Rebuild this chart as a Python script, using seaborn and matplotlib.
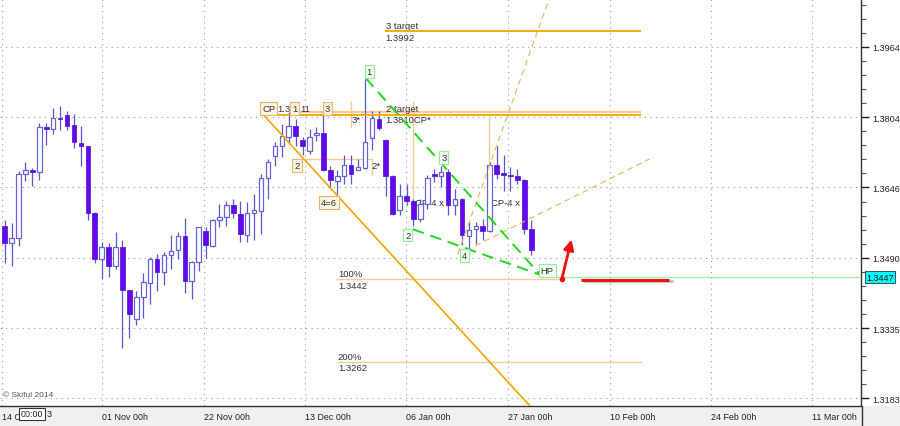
import numpy as np
import pandas as pd
import matplotlib
matplotlib.use('Agg')
import matplotlib.pyplot as plt
import seaborn as sns
from matplotlib.patches import Rectangle
from matplotlib.lines import Line2D
from matplotlib.ticker import FixedLocator, NullFormatter

# ============================================================
# Daily candles (bar index 0..76)
# ============================================================
opens = [1.3561, 1.3523, 1.3533, 1.3676, 1.3685, 1.3681, 1.3782, 1.3777, 1.3803, 1.3809,
         1.3787, 1.3746, 1.3738, 1.3590, 1.3486, 1.3513, 1.3472, 1.3513, 1.3418, 1.3355,
         1.3404, 1.3433, 1.3487, 1.3458, 1.3495, 1.3506, 1.3538, 1.3438, 1.3481, 1.3549,
         1.3516, 1.3573, 1.3580, 1.3606, 1.3587, 1.3541, 1.3589, 1.3593, 1.3668, 1.3716,
         1.3739, 1.3759, 1.3785, 1.3753, 1.3728, 1.3763, 1.3769, 1.3684, 1.3660, 1.3672,
         1.3697, 1.3686, 1.3690, 1.3758, 1.3801, 1.3753, 1.3672, 1.3595, 1.3628, 1.3616,
         1.3575, 1.3608, 1.3677, 1.3672, 1.3681, 1.3606, 1.3621, 1.3537, 1.3553, 1.3561,
         1.3549, 1.3697, 1.3678, 1.3673, 1.3671, 1.3663, 1.3554]
highs = [1.3573, 1.3567, 1.3683, 1.3703, 1.3690, 1.3791, 1.3791, 1.3824, 1.3830, 1.3817,
         1.3811, 1.3784, 1.3739, 1.3591, 1.3524, 1.3523, 1.3547, 1.3530, 1.3419, 1.3417,
         1.3456, 1.3491, 1.3498, 1.3502, 1.3541, 1.3547, 1.3579, 1.3482, 1.3559, 1.3558,
         1.3576, 1.3608, 1.3616, 1.3621, 1.3616, 1.3614, 1.3632, 1.3677, 1.3710, 1.3748,
         1.3789, 1.3815, 1.3800, 1.3759, 1.3778, 1.3782, 1.3809, 1.3694, 1.3684, 1.3718,
         1.3718, 1.3710, 1.3890, 1.3819, 1.3819, 1.3755, 1.3673, 1.3654, 1.3654, 1.3621,
         1.3621, 1.3673, 1.3688, 1.3695, 1.3688, 1.3643, 1.3622, 1.3569, 1.3569, 1.3576,
         1.3703, 1.3739, 1.3718, 1.3692, 1.3688, 1.3664, 1.3573]
lows = [1.3478, 1.3472, 1.3516, 1.3660, 1.3650, 1.3663, 1.3742, 1.3765, 1.3774, 1.3774,
        1.3735, 1.3695, 1.3574, 1.3478, 1.3443, 1.3447, 1.3465, 1.3291, 1.3313, 1.3341,
        1.3358, 1.3387, 1.3417, 1.3430, 1.3465, 1.3487, 1.3413, 1.3398, 1.3461, 1.3490,
        1.3513, 1.3558, 1.3561, 1.3579, 1.3525, 1.3525, 1.3528, 1.3543, 1.3621, 1.3693,
        1.3715, 1.3746, 1.3740, 1.3718, 1.3722, 1.3751, 1.3683, 1.3647, 1.3632, 1.3654,
        1.3654, 1.3684, 1.3688, 1.3729, 1.3774, 1.3628, 1.3584, 1.3584, 1.3606, 1.3561,
        1.3569, 1.3599, 1.3658, 1.3647, 1.3584, 1.3584, 1.3517, 1.3495, 1.3521, 1.3528,
        1.3547, 1.3666, 1.3639, 1.3639, 1.3654, 1.3543, 1.3495]
closes = [1.3523, 1.3533, 1.3677, 1.3686, 1.3681, 1.3782, 1.3777, 1.3802, 1.3800, 1.3785,
          1.3747, 1.3738, 1.3589, 1.3486, 1.3513, 1.3472, 1.3513, 1.3418, 1.3365, 1.3404,
          1.3436, 1.3487, 1.3458, 1.3495, 1.3504, 1.3538, 1.3438, 1.3481, 1.3558, 1.3517,
          1.3573, 1.3580, 1.3606, 1.3590, 1.3543, 1.3590, 1.3595, 1.3668, 1.3704, 1.3739,
          1.3761, 1.3785, 1.3761, 1.3740, 1.3760, 1.3769, 1.3684, 1.3662, 1.3672, 1.3697,
          1.3677, 1.3692, 1.3748, 1.3802, 1.3779, 1.3672, 1.3587, 1.3628, 1.3615, 1.3575,
          1.3610, 1.3667, 1.3671, 1.3681, 1.3606, 1.3621, 1.3541, 1.3552, 1.3561, 1.3549,
          1.3697, 1.3677, 1.3673, 1.3671, 1.3663, 1.3554, 1.3506]

# axis ticks
x_tick_pos = [-0.4, 14.04, 28.76, 43.33, 57.91, 72.63, 87.35, 101.9, 116.5]
x_tick_labels = ['14 O', '01 Nov 00h', '22 Nov 00h', '13 Dec 00h', '06 Jan 00h',
                 '27 Jan 00h', '10 Feb 00h', '24 Feb 00h', '11 Mar 00h']
y_ticks = [1.3183, 1.3335, 1.3490, 1.3646, 1.3804, 1.3964]
y_tick_labels = ['1.3183', '1.3335', '1.3490', '1.3646', '1.3804', '1.3964']

# pattern annotations (bar, price)
green_line_bars = [[52.1, 77.3], [58.9, 77.3]]
green_line_prices = [[1.3893, 1.3452], [1.3553, 1.3452]]
orange_diag_bars = [37.2, 78.7]
orange_diag_prices = [1.3812, 1.3119]
level_names = ['3 target', '2 target', '100%', '200%']
level_prices = [1.4001, 1.3808, 1.3442, 1.3262]
level_spans = [(54.9, 91.8), (37.2, 91.8), (47.8, 80.1), (47.9, 92.0)]
band_price, band_span = 1.3815, (42.6, 91.8)
small_h_price, small_h_span = 1.3710, (43.0, 53.0)
vert_bars = [50.0, 53.0, 58.9, 69.9]
vert_lo = [1.3779, 1.3675, 1.3576, 1.3698]
vert_hi = [1.3840, 1.3710, 1.3840, 1.3807]
dash_bars = [[65.4, 79.1], [67.9, 93.1]]
dash_prices = [[1.3498, 1.4097], [1.3516, 1.3710]]
hp_price, hp_span = 1.3447, (77.3, 124.0)
arrow_from, arrow_to = (80.4, 1.3442), (81.9, 1.3536)
red_price, red_span = 1.3441, (83.2, 95.9)

orange_boxes = [('CP', 38.1, 1.3824), ('1', 41.85, 1.3824), ('3', 46.6, 1.3824),
                ('2', 42.2, 1.3696), ('4=6', 46.8, 1.3613)]
green_boxes = [('1', 52.6, 1.3907), ('3', 63.4, 1.3714), ('2', 58.2, 1.3540),
               ('4', 66.3, 1.3494), ('HP', 78.3, 1.3461)]
plain_texts = [('1.3', 39.3, 1.3824), ('11', 42.65, 1.3824),
               ('3*', 50.1, 1.3798), ('2*', 53.0, 1.3696),
               ('2 target', 55.0, 1.3823), ('1.3810CP*', 55.0, 1.3798),
               ('3 target', 55.0, 1.4012), ('1.3992', 55.0, 1.3985),
               ('100%', 48.1, 1.3454), ('1.3442', 48.1, 1.3429),
               ('200%', 48.1, 1.3274), ('1.3262', 48.1, 1.3250),
               ('CP-4 x 1', 59.2, 1.3613), ('CP-4 x 2', 70.2, 1.3613)]

WICK = '#5a56d4'
FILL = '#6a00f2'
HOLLOW = '#6464d8'
ORANGE = '#f5a500'
LIGHT_OR = '#f7cc92'

sns.set_theme(style='white')
plt.rcParams['font.family'] = ['Liberation Sans', 'DejaVu Sans']

fig = plt.figure(figsize=(9, 4.27), dpi=100, facecolor='white')
fig.add_artist(Rectangle((0, 0), 1, 20 / 427, transform=fig.transFigure,
                         fc='#f0f0f0', ec='none', zorder=-5))
ax = fig.add_axes([0, 20 / 427, 861 / 900, 407 / 427])
ax.set_facecolor('white')
ax.set_yscale('log')

# candles
o, h, l, c = map(np.array, (opens, highs, lows, closes))
bars = np.arange(len(o))
up = c >= o
ax.vlines(bars, l, h, color=WICK, lw=0.9, zorder=2)
bottom = np.minimum(o, c)
height = np.maximum(np.abs(c - o), 0.00012)
ax.bar(bars[up], height[up], bottom=bottom[up], width=0.66, color='white',
       edgecolor=HOLLOW, linewidth=0.9, zorder=3)
ax.bar(bars[~up], height[~up], bottom=bottom[~up], width=0.66, color=FILL,
       edgecolor='#4a2ad0', linewidth=0.6, zorder=3)

# light orange helper lines
ax.vlines(vert_bars, vert_lo, vert_hi, color=LIGHT_OR, lw=1.0, zorder=1)
ax.hlines(small_h_price, *small_h_span, color=LIGHT_OR, lw=1.0, zorder=1)
ax.hlines(band_price, *band_span, color=LIGHT_OR, lw=1.6, zorder=1)

# fib / target levels
for name, p, span in zip(level_names, level_prices, level_spans):
    lw = 1.3 if name in ('3 target', '2 target') else 1.0
    col = ORANGE if name in ('3 target', '2 target') else LIGHT_OR
    ax.hlines(p, *span, color=col, lw=lw, zorder=4)

# main diagonal
seg = pd.DataFrame({'bar': orange_diag_bars, 'price': orange_diag_prices})
sns.lineplot(data=seg, x='bar', y='price', ax=ax, color=ORANGE, lw=1.2,
             estimator=None, sort=False, zorder=4)

# dashed orange projections
for bx, py in zip(dash_bars, dash_prices):
    seg = pd.DataFrame({'bar': bx, 'price': py})
    sns.lineplot(data=seg, x='bar', y='price', ax=ax, color='#f5b25a', lw=0.8,
                 linestyle=(0, (5.4, 3.6)), estimator=None, sort=False, zorder=4)

# green wave lines
for bx, py in zip(green_line_bars, green_line_prices):
    seg = pd.DataFrame({'bar': bx, 'price': py})
    sns.lineplot(data=seg, x='bar', y='price', ax=ax, color='#1ed81e', lw=1.4,
                 linestyle=(0, (6, 3.5)), estimator=None, sort=False, zorder=5)

ax.hlines(hp_price, *hp_span, color='#a6eea6', lw=1.0, zorder=4)

# red arrow and target line
ax.hlines(red_price * 0.99975, red_span[0] + 0.3, red_span[1] + 0.5,
          color='#9a9a9a', lw=2.0, alpha=0.6, zorder=5)
ax.hlines(red_price, *red_span, color='#ee1111', lw=2.2, zorder=6)
ax.annotate('', xy=arrow_to, xytext=arrow_from,
            arrowprops=dict(arrowstyle='-|>,head_length=0.5,head_width=0.25',
                            color='#ee1111', lw=2.0), zorder=6)
ax.plot([arrow_from[0]], [arrow_from[1]], 'o', color='#ee1111', ms=3, zorder=6)

# text
for txt, bx, py in plain_texts:
    ax.text(bx, py, txt, fontsize=6.8, color='#333333', ha='left', va='center', zorder=2)
for txt, bx, py in orange_boxes:
    ax.text(bx, py, txt, fontsize=6.8, color='#333333', ha='center', va='center', zorder=7,
            bbox=dict(boxstyle='square,pad=0.2', fc='#fff4e4', ec='#f2b466', lw=0.8))
for txt, bx, py in green_boxes:
    ax.text(bx, py, txt, fontsize=6.8, color='#333333', ha='center', va='center', zorder=7,
            bbox=dict(boxstyle='square,pad=0.2', fc='#f2fff2', ec='#98ec98', lw=0.8))

ax.text(0.004, 0.028, '\u00a9 Skiful 2014', transform=ax.transAxes, fontsize=6,
        color='#555555', ha='left', va='center')
ax.text(1.006, hp_price, '1.3447', transform=ax.get_yaxis_transform(), ha='left',
        va='center', fontsize=6.5, color='#111111', clip_on=False,
        bbox=dict(boxstyle='square,pad=0.15', fc='#00ffff', ec='#333333', lw=0.6))

# axes, ticks and grid
ax.set_xlim(-0.68, 123.6)
ax.set_ylim(1.3166, 1.4074)
ax.set_xlabel('')
ax.set_ylabel('')

ax.yaxis.tick_right()
ax.yaxis.set_major_locator(FixedLocator(y_ticks))
ax.set_yticklabels(y_tick_labels)
ext = [1.3183 / 1.01157] + y_ticks + [1.3964 * 1.01157]
y_minor = np.concatenate([np.geomspace(a, b, 6)[1:-1] for a, b in zip(ext[:-1], ext[1:])])
ax.yaxis.set_minor_locator(FixedLocator(y_minor))
ax.yaxis.set_minor_formatter(NullFormatter())

ax.xaxis.set_major_locator(FixedLocator(x_tick_pos))
ax.set_xticklabels(x_tick_labels, ha='left')
x_ext = x_tick_pos[1:] + [x_tick_pos[-1] + 14.65]
x_minor = np.concatenate([np.linspace(a - 14.65, a, 6)[1:-1] for a in x_ext])
ax.xaxis.set_minor_locator(FixedLocator(x_minor))

ax.tick_params(axis='y', which='major', direction='out', length=6, width=1,
               color='#222222', labelsize=6.6, labelcolor='#222222', pad=2,
               left=False, right=True)
ax.tick_params(axis='y', which='minor', direction='out', length=3.5, width=0.8,
               color='#555555', left=False, right=True)
ax.tick_params(axis='x', which='major', direction='out', length=4, width=0.9,
               color='#222222', labelsize=6.4, labelcolor='#222222', pad=0.5)
ax.tick_params(axis='x', which='minor', direction='out', length=2.5, width=0.8,
               color='#444444')

ax.grid(True, which='major', axis='both', linestyle=(0, (1, 4)), color='#9a9a9a', lw=0.8)
ax.set_axisbelow(True)
for side in ('left', 'top'):
    ax.spines[side].set_visible(False)
for side in ('right', 'bottom'):
    ax.spines[side].set_visible(True)
    ax.spines[side].set_color('#333333')
    ax.spines[side].set_linewidth(1.0)

fig.add_artist(Line2D([861.5 / 900] * 2, [0, 20 / 427], transform=fig.transFigure,
                      color='#333333', lw=1.0))
# cursor time box sitting next to the first date label
fig.text(32 / 900, 1 - 415 / 427, '00:00', fontsize=6.4, ha='center', va='center',
         color='#222222', bbox=dict(boxstyle='square,pad=0.2', fc='white', ec='#333333', lw=0.8))
fig.text(47 / 900, 1 - 415 / 427, '3', fontsize=6.4, ha='left', va='center', color='#222222')

fig.savefig('out.png', dpi=100, facecolor=fig.get_facecolor())
